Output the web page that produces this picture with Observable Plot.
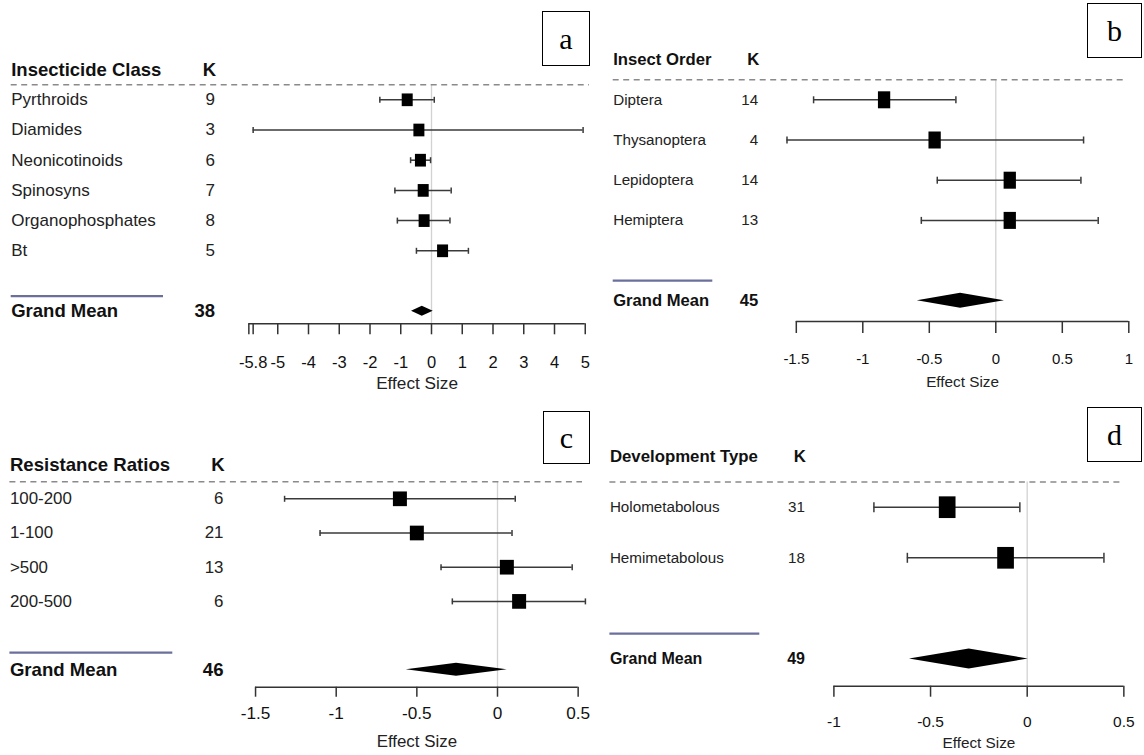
<!DOCTYPE html>
<html>
<head>
<meta charset="utf-8">
<script src="https://cdn.jsdelivr.net/npm/d3@7"></script>
<script src="https://cdn.jsdelivr.net/npm/@observablehq/plot@0.6"></script>
<style>
  html, body { margin: 0; padding: 0; background: #fff; }
  #wrap { position: relative; width: 1144px; height: 755px; background: #fff; overflow: hidden; }
  .tag { position: absolute; box-sizing: border-box; border: 1.3px solid #000; background: #fff;
         display: flex; align-items: center; justify-content: center;
         font-family: "Liberation Serif", "Times New Roman", serif; font-size: 30px; color: #000; line-height: 1; }
</style>
</head>
<body>
<div id="wrap"></div>
<script>
// ---------- DATA ----------
// (a) Insecticide class
const classNames = ["Pyrthroids", "Diamides", "Neonicotinoids", "Spinosyns", "Organophosphates", "Bt"];
const classK     = [9, 3, 6, 7, 8, 5];
const classEst   = [-0.79, -0.41, -0.36, -0.27, -0.24, 0.36];
const classLo    = [-1.68, -5.8, -0.68, -1.19, -1.11, -0.49];
const classHi    = [0.09, 4.93, -0.03, 0.64, 0.60, 1.20];
const classGrand = { k: 38, est: -0.30, lo: -0.65, hi: 0.055 };
const classTicks = [-5.8, -5, -4, -3, -2, -1, 0, 1, 2, 3, 4, 5];
const classAxisStart = [-5.94];

// (b) Insect order
const orderNames = ["Diptera", "Thysanoptera", "Lepidoptera", "Hemiptera"];
const orderK     = [14, 4, 14, 13];
const orderEst   = [-0.84, -0.46, 0.105, 0.105];
const orderLo    = [-1.37, -1.57, -0.44, -0.56];
const orderHi    = [-0.30, 0.66, 0.64, 0.77];
const orderGrand = { k: 45, est: -0.265, lo: -0.59, hi: 0.065 };
const orderTicks = [-1.5, -1, -0.5, 0, 0.5, 1];

// (c) Resistance ratios
const ratioNames = ["100-200", "1-100", ">500", "200-500"];
const ratioK     = [6, 21, 13, 6];
const ratioEst   = [-0.605, -0.50, 0.058, 0.134];
const ratioLo    = [-1.32, -1.10, -0.35, -0.28];
const ratioHi    = [0.11, 0.09, 0.463, 0.545];
const ratioGrand = { k: 46, est: -0.254, lo: -0.566, hi: 0.06 };
const ratioTicks = [-1.5, -1, -0.5, 0, 0.5];

// (d) Development type
const devNames = ["Holometabolous", "Hemimetabolous"];
const devK     = [31, 18];
const devEst   = [-0.414, -0.112];
const devLo    = [-0.793, -0.62];
const devHi    = [-0.038, 0.397];
const devGrand = { k: 49, est: -0.30, lo: -0.609, hi: 0.005 };
const devTicks = [-1, -0.5, 0, 0.5];

// ---------- LAYOUT (pixels) ----------
const FONT = "'Liberation Sans', Arial, Helvetica, sans-serif";
const panels = [
  { tag: "a", header: "Insecticide Class", names: classNames, k: classK, est: classEst, lo: classLo, hi: classHi, grand: classGrand, ticks: classTicks, extra: classAxisStart,
    L: { left: 0, top: 0, w: 592, h: 400, textLeft: 10.7, dashEnd: 589, kCenter: 209, kRight: 214.5, blueEnd: 163,
         y0: 99.3, rowPx: 30.2, axisPx: 323.3, zero: 431, unit: 30.75,
         fontRow: 17, fontBold: 18.5, fontGM: 18.5, fontTick: 16.5, fontLabel: 17.2,
         tickSize: 11, tickPad: 21, labelDy: 59.7, sq: [11, 12.7], cap: 3, dHalf: 5 },
    box: { left: 542, top: 11, w: 48, h: 55 } },
  { tag: "b", header: "Insect Order", names: orderNames, k: orderK, est: orderEst, lo: orderLo, hi: orderHi, grand: orderGrand, ticks: orderTicks, extra: [],
    L: { left: 592, top: 0, w: 552, h: 400, textLeft: 612.7, dashEnd: 1123, kCenter: 752.7, kRight: 757.7, blueEnd: 712.3,
         y0: 99.3, rowPx: 40.2, axisPx: 321, zero: 995.3, unit: 133,
         fontRow: 15.2, fontBold: 16.7, fontGM: 16.6, fontTick: 15, fontLabel: 15.3,
         tickSize: 12, tickPad: 19.5, labelDy: 61, sq: [12.3, 17], cap: 3.5, dHalf: 7.5 },
    box: { left: 1087, top: 3, w: 55, h: 55 } },
  { tag: "c", header: "Resistance Ratios", names: ratioNames, k: ratioK, est: ratioEst, lo: ratioLo, hi: ratioHi, grand: ratioGrand, ticks: ratioTicks, extra: [],
    L: { left: 0, top: 400, w: 592, h: 355, textLeft: 9.4, dashEnd: 582, kCenter: 217.5, kRight: 223, blueEnd: 172.3,
         y0: 498.3, rowPx: 34.2, axisPx: 686.7, zero: 497, unit: 161.3,
         fontRow: 16.9, fontBold: 18.6, fontGM: 18.6, fontTick: 17.2, fontLabel: 16.9,
         tickSize: 10, tickPad: 10, labelDy: 54, sq: [14, 14.7], cap: 3, dHalf: 6.5 },
    box: { left: 543, top: 411, w: 47, h: 53 } },
  { tag: "d", header: "Development Type", names: devNames, k: devK, est: devEst, lo: devLo, hi: devHi, grand: devGrand, ticks: devTicks, extra: [],
    L: { left: 592, top: 400, w: 552, h: 355, textLeft: 609.4, dashEnd: 1123, kCenter: 799.2, kRight: 804.5, blueEnd: 759.3,
         y0: 506.7, rowPx: 50.6, axisPx: 685.7, zero: 1026.7, unit: 193.3,
         fontRow: 15.2, fontBold: 16.8, fontGM: 16, fontTick: 15.5, fontLabel: 15.3,
         tickSize: 11, tickPad: 19, labelDy: 57, sq: [16.7, 21.7], cap: 5, dHalf: 10 },
    box: { left: 1087, top: 407, w: 55, h: 55 } }
];

// custom symbols
function rectSymbol(aspect) {
  return { draw(ctx, size) { const r = Math.sqrt(size / Math.PI), w = r * aspect;
    ctx.moveTo(-w, -r); ctx.lineTo(w, -r); ctx.lineTo(w, r); ctx.lineTo(-w, r); ctx.closePath(); } };
}
const capSymbol = { draw(ctx, size) { const r = Math.sqrt(size / Math.PI); ctx.moveTo(0, -r); ctx.lineTo(0, r); } };

const wrap = document.getElementById("wrap");
const BAR = "#3a3a3a";

for (const p of panels) {
  const L = p.L;
  const rows = p.names.map((name, i) => ({ name, k: p.k[i], est: p.est[i], lo: p.lo[i], hi: p.hi[i], row: i }));
  const gmRow = rows.length + 1;
  const axisU = (L.axisPx - L.y0) / L.rowPx;
  const allTicks = [...p.extra, ...p.ticks].sort((a, b) => a - b);
  const xmin = allTicks[0], xmax = allTicks[allTicks.length - 1];
  const px = v => L.zero + v * L.unit - L.left;
  const dh = L.dHalf / L.rowPx;
  const diamond = [
    { x: p.grand.lo, y1: gmRow, y2: gmRow },
    { x: p.grand.est, y1: gmRow - dh, y2: gmRow + dh },
    { x: p.grand.hi, y1: gmRow, y2: gmRow }
  ];
  const topPx = L.y0 - L.rowPx - L.top;
  const svg = Plot.plot({
    width: L.w, height: L.h,
    marginLeft: L.textLeft - L.left, marginRight: L.left + L.w - L.dashEnd,
    marginTop: topPx, marginBottom: L.top + L.h - L.axisPx,
    x: { domain: [xmin, xmax], range: [px(xmin), px(xmax)], axis: null },
    y: { domain: [-1, axisU], range: [topPx, L.axisPx - L.top], axis: null },
    style: { fontFamily: FONT, color: "#111", background: "transparent", overflow: "visible" },
    marks: [
      Plot.ruleX([0], { y1: -0.5, y2: axisU, stroke: "#d2d2d2", strokeWidth: 1.3 }),
      Plot.ruleY([-0.5], { stroke: "#8a8a8a", strokeWidth: 1.5, strokeDasharray: "6,4.5" }),
      Plot.ruleY([gmRow - 0.5], { stroke: "#6b6f9c", strokeWidth: 2.2, insetRight: L.dashEnd - L.blueEnd }),
      Plot.ruleY(rows, { y: "row", x1: "lo", x2: "hi", stroke: BAR, strokeWidth: 1.5 }),
      Plot.dot(rows, { x: "lo", y: "row", symbol: capSymbol, r: L.cap, stroke: BAR, strokeWidth: 1.5, fill: "none" }),
      Plot.dot(rows, { x: "hi", y: "row", symbol: capSymbol, r: L.cap, stroke: BAR, strokeWidth: 1.5, fill: "none" }),
      Plot.dot(rows, { x: "est", y: "row", symbol: rectSymbol(L.sq[0] / L.sq[1]), r: L.sq[1] / 2, fill: "#000", stroke: "none" }),
      Plot.areaY(diamond, { x: "x", y1: "y1", y2: "y2", fill: "#000" }),
      Plot.ruleY([axisU], { x1: xmin, x2: xmax, stroke: "#333", strokeWidth: 1.5 }),
      Plot.axisX({ anchor: "bottom", ticks: allTicks, tickFormat: d => p.ticks.includes(d) ? String(d) : "",
                   tickSize: L.tickSize, tickPadding: L.tickPad, fontSize: L.fontTick, strokeWidth: 1.5, stroke: "#333", label: null }),
      Plot.text(["Effect Size"], { x: (xmin + xmax) / 2, y: axisU, dy: L.labelDy, text: d => d, fontSize: L.fontLabel, fill: "#222" }),
      Plot.text([p.header], { y: -1, text: d => d, frameAnchor: "left", textAnchor: "start", fontWeight: "bold", fontSize: L.fontBold }),
      Plot.text(["K"], { y: -1, text: d => d, frameAnchor: "left", dx: L.kCenter - L.textLeft, textAnchor: "middle", fontWeight: "bold", fontSize: L.fontBold }),
      Plot.text(rows, { y: "row", text: "name", frameAnchor: "left", textAnchor: "start", fontSize: L.fontRow, fill: "#222" }),
      Plot.text(rows, { y: "row", text: d => String(d.k), frameAnchor: "left", dx: L.kRight - L.textLeft, textAnchor: "end", fontSize: L.fontRow, fill: "#222" }),
      Plot.text(["Grand Mean"], { y: gmRow, text: d => d, frameAnchor: "left", textAnchor: "start", fontWeight: "bold", fontSize: L.fontGM }),
      Plot.text([String(p.grand.k)], { y: gmRow, text: d => d, frameAnchor: "left", dx: L.kRight - L.textLeft, textAnchor: "end", fontWeight: "bold", fontSize: L.fontGM })
    ]
  });
  svg.style.position = "absolute";
  svg.style.left = L.left + "px";
  svg.style.top = L.top + "px";
  wrap.appendChild(svg);

  const b = document.createElement("div");
  b.className = "tag";
  b.textContent = p.tag;
  Object.assign(b.style, { left: p.box.left + "px", top: p.box.top + "px", width: p.box.w + "px", height: p.box.h + "px" });
  wrap.appendChild(b);
}
</script>
</body>
</html>
